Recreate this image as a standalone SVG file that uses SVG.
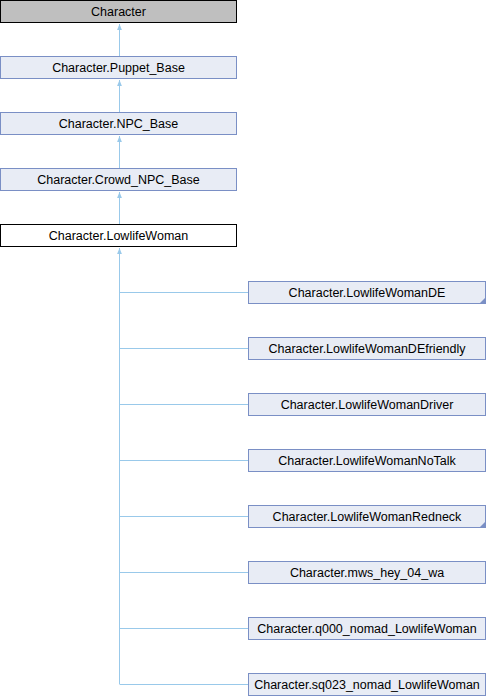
<svg xmlns="http://www.w3.org/2000/svg" width="486" height="696" viewBox="0 0 486 696">
<defs>
<style>
.n rect{fill:#e8ecf5;stroke:#7a8fc5;stroke-width:1}
.n text,.r text,.c text{font-family:"Liberation Sans",Arial,sans-serif;font-size:12.5px;fill:#000;text-anchor:middle}
.r rect{fill:#bfbfbf;stroke:#000;stroke-width:1}
.c rect{fill:#fff;stroke:#000;stroke-width:1}
.e{stroke:#99c9ea;stroke-width:1;fill:none}
.fold{fill:#7a8fc5}
</style>
<marker id="a" viewBox="0 0 10 10" refX="10" refY="5" markerWidth="6" markerHeight="6" orient="auto" markerUnits="userSpaceOnUse"><path d="M0,1 L10,5 L0,9 Z" fill="#99c9ea"/></marker>
</defs>
<g id="edges">
<path class="e" d="M119.5,57 V24" marker-end="url(#a)"/>
<path class="e" d="M119.5,113 V80" marker-end="url(#a)"/>
<path class="e" d="M119.5,169 V136" marker-end="url(#a)"/>
<path class="e" d="M119.5,225 V192" marker-end="url(#a)"/>
<path class="e" d="M119.5,684 V248" marker-end="url(#a)"/>
<path class="e" d="M119.5,292.5 H248"/>
<path class="e" d="M119.5,348.5 H248"/>
<path class="e" d="M119.5,404.5 H248"/>
<path class="e" d="M119.5,460.5 H248"/>
<path class="e" d="M119.5,516.5 H248"/>
<path class="e" d="M119.5,572.5 H248"/>
<path class="e" d="M119.5,628.5 H248"/>
<path class="e" d="M119.5,684.5 H248"/>
</g>
<g id="Character" class="r"><rect x="0.5" y="0.5" width="236" height="22"/><text x="118.5" y="16">Character</text></g>
<g id="Puppet_Base" class="n"><rect x="0.5" y="56.5" width="236" height="22"/><text x="118.5" y="72">Character.Puppet_Base</text></g>
<g id="NPC_Base" class="n"><rect x="0.5" y="112.5" width="236" height="22"/><text x="118.5" y="128">Character.NPC_Base</text></g>
<g id="Crowd_NPC_Base" class="n"><rect x="0.5" y="168.5" width="236" height="22"/><text x="118.5" y="184">Character.Crowd_NPC_Base</text></g>
<g id="LowlifeWoman" class="c"><rect x="0.5" y="224.5" width="236" height="22"/><text x="118.5" y="240">Character.LowlifeWoman</text></g>
<g id="LowlifeWomanDE" class="n"><rect x="248.5" y="281.5" width="237" height="22"/><text x="367" y="297">Character.LowlifeWomanDE</text><path class="fold" d="M485,298 L485,303 L480,303 Z"/></g>
<g id="LowlifeWomanDEfriendly" class="n"><rect x="248.5" y="337.5" width="237" height="22"/><text x="367" y="353">Character.LowlifeWomanDEfriendly</text></g>
<g id="LowlifeWomanDriver" class="n"><rect x="248.5" y="393.5" width="237" height="22"/><text x="367" y="409">Character.LowlifeWomanDriver</text></g>
<g id="LowlifeWomanNoTalk" class="n"><rect x="248.5" y="449.5" width="237" height="22"/><text x="367" y="465">Character.LowlifeWomanNoTalk</text></g>
<g id="LowlifeWomanRedneck" class="n"><rect x="248.5" y="505.5" width="237" height="22"/><text x="367" y="521">Character.LowlifeWomanRedneck</text><path class="fold" d="M485,522 L485,527 L480,527 Z"/></g>
<g id="mws_hey_04_wa" class="n"><rect x="248.5" y="561.5" width="237" height="22"/><text x="367" y="577">Character.mws_hey_04_wa</text></g>
<g id="q000_nomad_LowlifeWoman" class="n"><rect x="248.5" y="617.5" width="237" height="22"/><text x="367" y="633">Character.q000_nomad_LowlifeWoman</text></g>
<g id="sq023_nomad_LowlifeWoman" class="n"><rect x="248.5" y="673.5" width="237" height="22"/><text x="367" y="689">Character.sq023_nomad_LowlifeWoman</text></g>
</svg>
